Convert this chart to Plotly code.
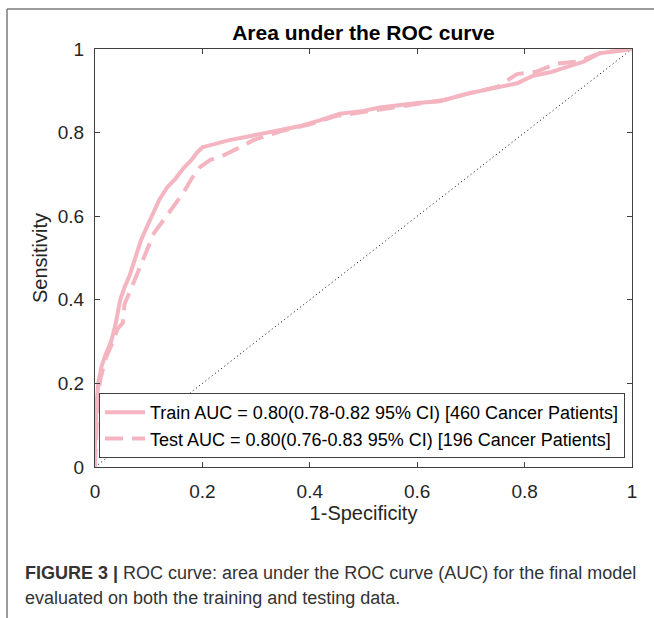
import plotly.graph_objects as go

# ---- data ----
train_fpr = [0.0, 0.0, 0.003, 0.006, 0.012, 0.02, 0.03, 0.038, 0.047, 0.055, 0.065, 0.075,
             0.085, 0.095, 0.105, 0.12, 0.135, 0.15, 0.165, 0.18, 0.19, 0.20, 0.215, 0.25,
             0.29, 0.345, 0.38, 0.42, 0.456, 0.50, 0.53, 0.60, 0.642, 0.693, 0.74, 0.786,
             0.816, 0.85, 0.879, 0.91, 0.94, 0.97, 1.0]
train_tpr = [0.0, 0.05, 0.15, 0.20, 0.24, 0.27, 0.30, 0.34, 0.40, 0.43, 0.46, 0.50,
             0.54, 0.57, 0.60, 0.64, 0.67, 0.69, 0.715, 0.735, 0.752, 0.765, 0.77, 0.782,
             0.792, 0.806, 0.815, 0.83, 0.845, 0.852, 0.86, 0.871, 0.875, 0.893, 0.905, 0.918,
             0.936, 0.945, 0.957, 0.97, 0.99, 0.995, 1.0]

test_fpr = [0.0, 0.002, 0.005, 0.01, 0.02, 0.03, 0.042, 0.052, 0.055, 0.065, 0.075, 0.085,
            0.097, 0.11, 0.13, 0.145, 0.164, 0.18, 0.196, 0.215, 0.24, 0.27, 0.295, 0.345,
            0.40, 0.45, 0.50, 0.55, 0.60, 0.65, 0.70, 0.75, 0.786, 0.82, 0.86, 0.90, 0.94, 1.0]
test_tpr = [0.0, 0.10, 0.17, 0.21, 0.26, 0.29, 0.33, 0.345, 0.39, 0.42, 0.45, 0.48,
            0.52, 0.56, 0.595, 0.62, 0.655, 0.69, 0.718, 0.735, 0.746, 0.765, 0.782, 0.803,
            0.82, 0.84, 0.85, 0.86, 0.868, 0.878, 0.895, 0.91, 0.94, 0.945, 0.965, 0.97, 0.99, 1.0]

chance_x = [0, 1]
chance_y = [0, 1]

tick_vals = [0, 0.2, 0.4, 0.6, 0.8, 1]
tick_text = ["0", "0.2", "0.4", "0.6", "0.8", "1"]

train_name = "Train AUC = 0.80(0.78-0.82 95% CI) [460 Cancer Patients]"
test_name = "Test AUC = 0.80(0.76-0.83 95% CI) [196 Cancer Patients]"

PINK = "#F4B5C1"
AX = "#404040"
FONT = "Liberation Sans, Arial, sans-serif"

fig = go.Figure()
fig.add_trace(go.Scatter(x=chance_x, y=chance_y, mode="lines", showlegend=False,
                         line=dict(color="black", width=1, dash="1px,3px")))
fig.add_trace(go.Scatter(x=train_fpr, y=train_tpr, mode="lines", name=train_name,
                         line=dict(color=PINK, width=4)))
fig.add_trace(go.Scatter(x=test_fpr, y=test_tpr, mode="lines", name=test_name,
                         line=dict(color=PINK, width=4, dash="18px,9px")))

axis_common = dict(range=[0, 1], tickvals=tick_vals, ticktext=tick_text,
                   showline=True, linecolor=AX, linewidth=1, mirror="ticks",
                   ticks="inside", ticklen=5, tickcolor=AX, showgrid=False, zeroline=False,
                   tickfont=dict(size=19, color="#262626", family=FONT))

fig.update_xaxes(**axis_common, ticklabelstandoff=7,
                 title=dict(text="1-Specificity", font=dict(size=20, color="#262626", family=FONT),
                            standoff=5))
fig.update_yaxes(**axis_common, ticklabelstandoff=6,
                 title=dict(text="Sensitivity", font=dict(size=20, color="#262626", family=FONT),
                            standoff=4))

L, R, T, B = 95, 632, 49, 467
W, H = 654, 618


def px(xp):
    return (xp - L) / (R - L)


def py(yp):
    return (B - yp) / (B - T)


fig.update_layout(
    width=W, height=H,
    margin=dict(l=L, r=W - R, t=T, b=H - B),
    paper_bgcolor="white", plot_bgcolor="white",
    font=dict(family=FONT, color="#262626"),
    title=dict(text="<b>Area under the ROC curve</b>", x=0.5, xref="paper", xanchor="center",
               y=1 - 33 / H, yref="container", yanchor="middle",
               font=dict(size=21, color="black", family=FONT)),
    legend=dict(x=px(99), y=py(458), xanchor="left", yanchor="bottom",
                bgcolor="white", bordercolor=AX, borderwidth=1,
                font=dict(size=18, color="black", family=FONT),
                tracegroupgap=0, itemwidth=40),
    shapes=[
        dict(type="line", xref="paper", yref="paper", x0=px(7), x1=px(7), y0=py(H), y1=py(9),
             line=dict(color="#7a7a7a", width=1.5)),
        dict(type="line", xref="paper", yref="paper", x0=px(7), x1=px(W), y0=py(9), y1=py(9),
             line=dict(color="#7a7a7a", width=1.5)),
    ],
    annotations=[
        dict(text="<b>FIGURE 3 |</b> ROC curve: area under the ROC curve (AUC) for the final model",
             xref="paper", yref="paper", x=px(23), y=py(573), xanchor="left", yanchor="middle",
             showarrow=False, font=dict(size=18, color="#333333", family=FONT)),
        dict(text="evaluated on both the training and testing data.",
             xref="paper", yref="paper", x=px(23), y=py(598), xanchor="left", yanchor="middle",
             showarrow=False, font=dict(size=18, color="#333333", family=FONT)),
    ],
)

fig.write_html("out.html")
